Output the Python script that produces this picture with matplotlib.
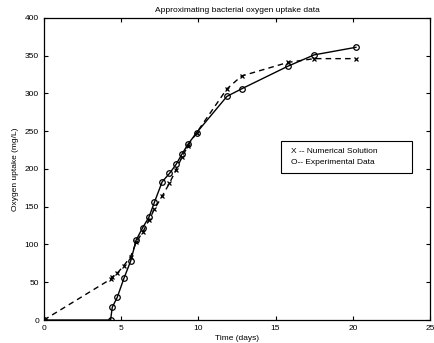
import matplotlib
matplotlib.use("Agg")
import matplotlib.pyplot as plt
from matplotlib.patches import Rectangle

# time points (days)
t = [0, 4.32, 4.43, 4.75, 5.18, 5.62, 5.98, 6.39, 6.8, 7.16, 7.66,
     8.13, 8.56, 8.95, 9.34, 9.89, 11.85, 12.8, 15.8, 17.5, 20.2]
# oxygen uptake (mg/L)
experimental = [0, 0, 17, 30, 55, 78, 106, 122, 136, 156, 183,
                194, 206, 220, 233, 248, 296, 306, 336, 351, 361]
numerical = [0, 54, 57, 62, 72, 84, 103, 116, 132, 147, 164,
             181, 199, 216, 231, 248, 306, 323, 341, 346, 346]

xticks = [0, 5, 10, 15, 20, 25]
yticks = [0, 50, 100, 150, 200, 250, 300, 350, 400]
legend_lines = ["X -- Numerical Solution", "O-- Experimental Data"]

plt.rcParams['font.family'] = ['Liberation Sans', 'DejaVu Sans']

fig = plt.figure(figsize=(4.34, 3.43), dpi=100)
ax = fig.add_axes([0.101, 0.067, 0.890, 0.881])

ax.plot(t, numerical, 'k--x', lw=1.0, ms=3.5, mew=0.9, dashes=(4, 3))
ax.plot(t, experimental, 'k-o', lw=1.0, ms=4, mfc='none', mew=0.9)

ax.set_xlim(0, 25)
ax.set_ylim(0, 400)
ax.set_xticks(xticks)
ax.set_yticks(yticks)
ax.tick_params(direction='in', top=True, right=True, labelsize=6, length=3, width=0.8)
for s in ax.spines.values():
    s.set_linewidth(0.9)

ax.set_title("Approximating bacterial oxygen uptake data", fontsize=6, pad=4)
ax.set_xlabel("Time (days)", fontsize=6, labelpad=2)
ax.set_ylabel("Oxygen uptake (mg/L)", fontsize=6, labelpad=4)

# legend box drawn as plain text inside a rectangle
ax.add_patch(Rectangle((15.35, 195), 8.45, 42, transform=ax.transData,
                       fill=False, edgecolor='k', lw=0.8))
ax.text(16.0, 223, legend_lines[0], fontsize=6, va='center')
ax.text(16.0, 209, legend_lines[1], fontsize=6, va='center')

fig.savefig("out.png", dpi=100)
